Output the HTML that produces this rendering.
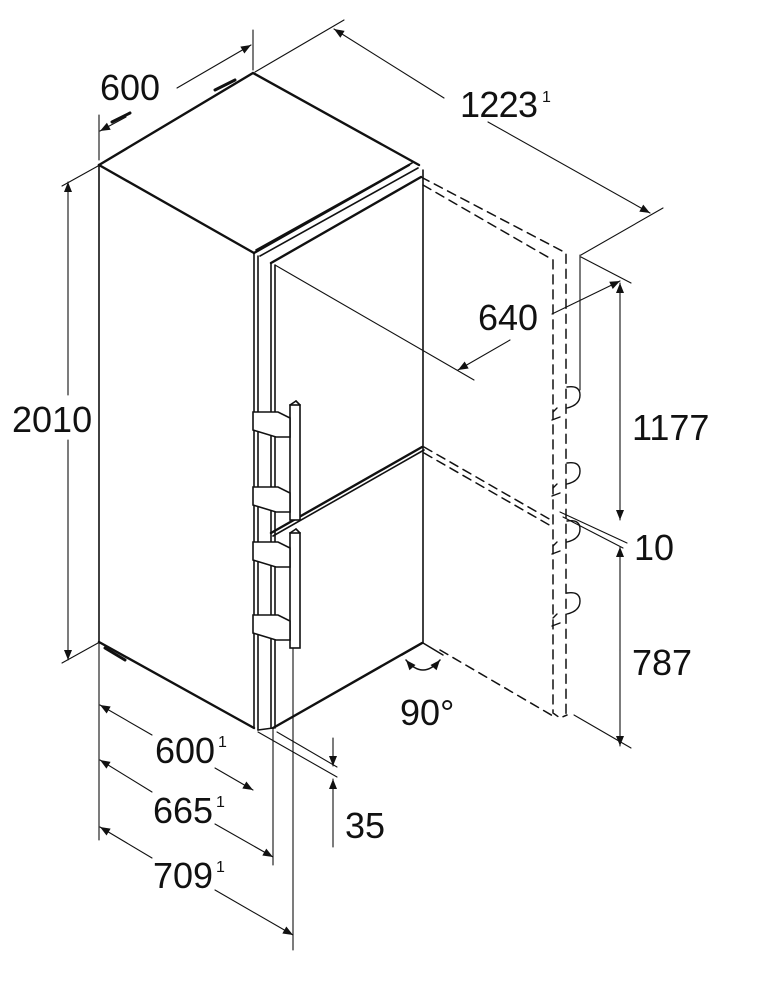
<!DOCTYPE html>
<html><head><meta charset="utf-8"><style>
html,body{margin:0;padding:0;background:#fff;}
svg{display:block;}
text{font-family:"Liberation Sans",sans-serif;font-size:36px;fill:#111;}
.sup{font-size:16px;}
</style></head><body>
<svg width="758" height="999" viewBox="0 0 758 999" xmlns="http://www.w3.org/2000/svg">
<defs>
<marker id="a" viewBox="0 0 10 10" refX="10" refY="5" markerWidth="16" markerHeight="10" markerUnits="userSpaceOnUse" orient="auto-start-reverse"><path d="M0,1 L10,5 L0,9 Z" fill="#111"/></marker>
</defs>
<g stroke="#111" fill="none" stroke-linecap="round">
<g stroke-width="2.4">
<path d="M99,165 L253,73 L419,165"/>
<path d="M99,165 L254,253"/>
<path d="M254,253 L409,165"/>
<path d="M271,263 L421,177"/>
<path d="M99,642 L254,728"/>
<path d="M273,728 L422,643"/>
<path d="M271,533 L422,447"/>
</g>
<g stroke-width="1.6">
<line x1="99" y1="165" x2="99" y2="642"/>
<line x1="423" y1="170" x2="423" y2="643"/>
<line x1="254" y1="253" x2="254" y2="728"/>
<line x1="258" y1="256" x2="258" y2="730"/>
<line x1="271" y1="263" x2="271" y2="728"/>
<line x1="275" y1="265" x2="275" y2="728"/>
<path d="M256,250 L412,163 M260,256 L418,168"/>
<path d="M258,730 L273,728"/>
<path d="M273,536 L424,450"/>
<path d="M105,648 L125,660" stroke-width="3"/>
<path d="M112,122 L130,113 M215,90 L235,80" stroke-width="3"/>
</g>
<g stroke-width="1.6" fill="#fff">
<rect x="290" y="405" width="10" height="115"/>
<rect x="290" y="533" width="10" height="115"/>
<path d="M253,412 L278,412 L290,418 L290,437 L276,437 L253,430 Z"/>
<path d="M253,487 L278,487 L290,493 L290,512 L276,512 L253,505 Z"/>
<path d="M253,542 L278,542 L290,548 L290,567 L276,567 L253,560 Z"/>
<path d="M253,615 L278,615 L290,621 L290,640 L276,640 L253,633 Z"/>
<line x1="290" y1="405" x2="296" y2="401"/><line x1="296" y1="401" x2="300" y2="405"/>
<line x1="290" y1="533" x2="296" y2="529"/><line x1="296" y1="529" x2="300" y2="533"/>
</g>
<g stroke-width="1.5" stroke-dasharray="9,6">
<path d="M421,177 L566,253 L566,717"/>
<path d="M423,185 L553,260 L553,713 L560,718 L567,715"/>
<path d="M424,447 L551,520"/>
<path d="M424,453 L551,526"/>
<path d="M440,650 L553,716"/>
</g>
<g stroke-width="1.4">
<path d="M567,387 Q580,385 580,395 Q580,405 567,408"/>
<path d="M553,412 L557,408 M552,420 L560,417"/>
<path d="M567,463 Q580,461 580,471 Q580,481 567,484"/>
<path d="M553,488 L557,484 M552,496 L560,493"/>
<path d="M567,521 Q580,519 580,529 Q580,539 567,542"/>
<path d="M553,546 L557,542 M552,554 L560,551"/>
<path d="M567,593 Q580,591 580,601 Q580,611 567,614"/>
<path d="M553,618 L557,614 M552,626 L560,623"/>
</g>
<g stroke-width="1.5">
<path d="M402,655 L423,643 L443,655"/>
<path d="M406,660 Q423,680 440,660" marker-start="url(#a)" marker-end="url(#a)"/>
</g>
<g stroke-width="1.1">
<line x1="99" y1="160" x2="99" y2="115"/>
<line x1="253" y1="70" x2="253" y2="30"/>
<line x1="126" y1="117" x2="100" y2="131" marker-end="url(#a)"/>
<line x1="177" y1="88" x2="251" y2="45" marker-end="url(#a)"/>
<line x1="255" y1="72" x2="344" y2="20"/>
<line x1="444" y1="98" x2="334" y2="29" marker-end="url(#a)"/>
<line x1="488" y1="122" x2="650" y2="213" marker-end="url(#a)"/>
<line x1="663" y1="208" x2="581" y2="255"/>
<line x1="580" y1="255" x2="580" y2="390"/>
<line x1="275" y1="265" x2="474" y2="380"/>
<line x1="581" y1="257" x2="631" y2="283"/>
<line x1="510" y1="340" x2="458" y2="370" marker-end="url(#a)"/>
<line x1="552" y1="314" x2="620" y2="281" marker-end="url(#a)"/>
<line x1="98" y1="166" x2="62" y2="186"/>
<line x1="98" y1="643" x2="62" y2="663"/>
<line x1="68" y1="395" x2="68" y2="182" marker-end="url(#a)"/>
<line x1="68" y1="440" x2="68" y2="660" marker-end="url(#a)"/>
<line x1="620" y1="400" x2="620" y2="283" marker-end="url(#a)"/>
<line x1="620" y1="400" x2="620" y2="520" marker-end="url(#a)"/>
<line x1="620" y1="650" x2="620" y2="547" marker-end="url(#a)"/>
<line x1="620" y1="650" x2="620" y2="746" marker-end="url(#a)"/>
<path d="M560,512 L627,543 M563,517 L623,548"/>
<line x1="574" y1="715" x2="631" y2="748"/>
<line x1="99" y1="642" x2="99" y2="840"/>
<line x1="273" y1="728" x2="273" y2="865"/>
<line x1="293" y1="648" x2="293" y2="950"/>
<line x1="152" y1="735" x2="100" y2="705" marker-end="url(#a)"/>
<line x1="215" y1="768" x2="253" y2="790" marker-end="url(#a)"/>
<line x1="152" y1="792" x2="100" y2="760" marker-end="url(#a)"/>
<line x1="215" y1="824" x2="273" y2="857" marker-end="url(#a)"/>
<line x1="152" y1="858" x2="100" y2="827" marker-end="url(#a)"/>
<line x1="215" y1="890" x2="293" y2="935" marker-end="url(#a)"/>
<line x1="258" y1="732" x2="337" y2="777"/>
<line x1="277" y1="732" x2="337" y2="767"/>
<line x1="333" y1="738" x2="333" y2="766" marker-end="url(#a)"/>
<line x1="333" y1="847" x2="333" y2="779" marker-end="url(#a)"/>
</g>
</g>
<text x="100" y="100">600</text>
<text x="460" y="117" textLength="78">1223</text><text class="sup" x="542" y="102">1</text>
<text x="478" y="330">640</text>
<text x="12" y="432">2010</text>
<text x="632" y="440">1177</text>
<text x="634" y="560">10</text>
<text x="632" y="675">787</text>
<text x="400" y="725">90°</text>
<text x="155" y="763">600</text><text class="sup" x="218" y="747">1</text>
<text x="153" y="823">665</text><text class="sup" x="216" y="807">1</text>
<text x="153" y="888">709</text><text class="sup" x="216" y="872">1</text>
<text x="345" y="838">35</text>
</svg>
</body></html>
